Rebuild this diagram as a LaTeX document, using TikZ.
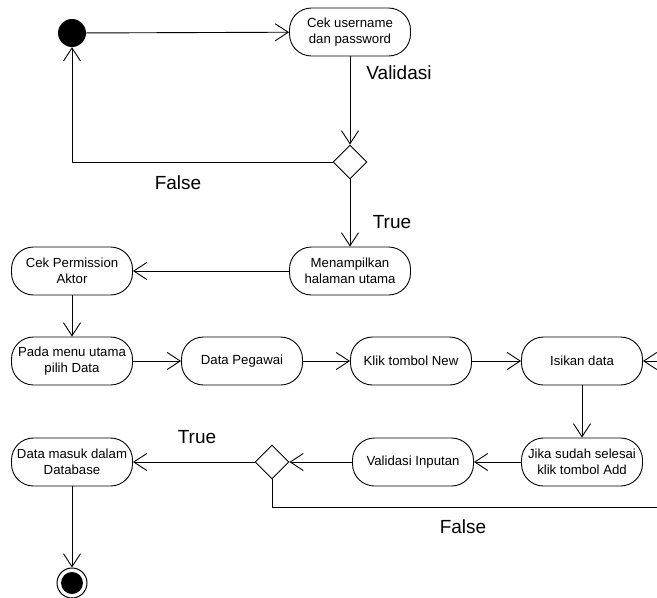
\documentclass[tikz,border=0pt]{standalone}
\usepackage{fontspec}
\setmainfont{Liberation Sans}
\usetikzlibrary{arrows.meta,shapes.geometric}
\begin{document}
\begin{tikzpicture}[x=1pt,y=-1pt,
  act/.style={draw, rounded corners=22pt, minimum width=121pt, minimum height=48pt,
    inner sep=0pt, align=center, font=\fontsize{13.2}{16}\selectfont, line width=0.9pt},
  dec/.style={draw, diamond, minimum width=34pt, minimum height=34pt, inner sep=0pt, line width=0.9pt},
  flow/.style={line width=0.9pt, -{Straight Barb[length=13pt,width=17pt,line width=0.9pt]}},
  plain/.style={line width=0.9pt},
  lbl/.style={font=\fontsize{19}{22}\selectfont}]
\useasboundingbox (0,0) rectangle (657,598);
\clip (0,0) rectangle (657,598);
% nodes
\node[circle, fill=black, minimum size=28pt, inner sep=0pt] (start) at (72,33) {};
\node[act] (cek) at (350,32) {Cek username\\dan password};
\node[dec] (d1) at (350,162) {};
\node[act] (menu) at (350,271) {Menampilkan\\halaman utama};
\node[act] (perm) at (72,271) {Cek Permission\\Aktor};
\node[act] (pada) at (72,361) {Pada menu utama\\pilih Data};
\node[act] (peg) at (242,361) {Data Pegawai};
\node[act] (klik) at (411,361) {Klik tombol New};
\node[act] (isi) at (582,361) {Isikan data};
\node[act] (jika) at (582,462) {Jika sudah selesai\\klik tombol Add};
\node[act] (vin) at (413,462) {Validasi Inputan};
\node[dec] (d2) at (272,462) {};
\node[act] (db) at (72,462) {Data masuk dalam\\Database};
\node[circle, draw, line width=1pt, minimum size=30pt, inner sep=0pt] (end) at (72,583) {};
\node[circle, fill=black, minimum size=22pt, inner sep=0pt] at (end.center) {};
\coordinate (offr) at (700,507);
\coordinate (offin) at (700,361);
% labels
\node[lbl] (lval) at (399,73) {Validasi};
\node[lbl] (lf1) at (178,183) {False};
\node[lbl] (lt1) at (392,222) {True};
\node[lbl] (lt2) at (197,437) {True};
\node[lbl] (lf2) at (463,527) {False};
% connectors
\draw[flow] (start) -- (cek);
\draw[flow] (cek) -- (d1);
\draw[flow] (d1.west) -| (start);
\draw[flow] (d1) -- (menu);
\draw[flow] (menu) -- (perm);
\draw[flow] (perm) -- (pada);
\draw[flow] (pada) -- (peg);
\draw[flow] (peg) -- (klik);
\draw[flow] (klik) -- (isi);
\draw[flow] (isi) -- (jika);
\draw[flow] (jika) -- (vin);
\draw[flow] (vin) -- (d2);
\draw[flow] (d2) -- (db);
\draw[flow] (db) -- (end);
\draw[plain] (d2.south) |- (offr) -- (offin);
\draw[flow] (offin) -- (isi);
\end{tikzpicture}
\end{document}
